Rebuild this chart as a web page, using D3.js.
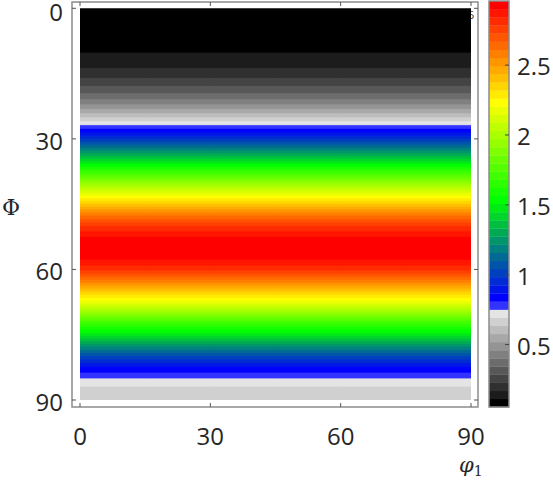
<!DOCTYPE html>
<html><head><meta charset="utf-8">
<script src="https://cdn.jsdelivr.net/npm/d3@7"></script>
<style>html,body{margin:0;padding:0;background:#fff;}svg{display:block;}</style>
</head><body>
<svg id="c" width="553" height="482"></svg>
<script>
// ---- data ----
const phiRows = [0,2.5,5,7.5,10,12.5,15,17.5,20,22.5,25,27.5,30,32.5,35,37.5,40,42.5,45,47.5,50,52.5,55,57.5,60,62.5,65,67.5,70,72.5,75,77.5,80,82.5,85,87.5,90];
const profile = [0.06,0.065,0.07,0.085,0.108,0.145,0.195,0.273,0.36,0.48,0.628,0.79,0.98,1.2,1.43,1.68,1.92,2.15,2.38,2.6,2.78,2.9,2.94,2.91,2.8,2.6,2.38,2.18,1.93,1.68,1.47,1.24,1.03,0.86,0.75,0.675,0.66];
const phi1Cols = [0,15,30,45,60,75,90];
const xTicks = [0,30,60,90];
const yTicks = [0,30,60,90];
const cbTicks = [0.5,1,1.5,2,2.5];
const vMin = 0.053, vMax = 2.959, nLevels = 50;

// ---- colormap ----
function bandColor(k){
  if (k < 12){ const g = k===0?0:8+20*k; return d3.rgb(g,g,g).toString(); }
  if (k === 12) return "#3333ff";
  if (k <= 25) return d3.interpolateRgb("#0000ff","#00ff00")((k-13)/12);
  if (k <= 37) return d3.interpolateRgb("#00ff00","#ffff00")((k-25)/12);
  return d3.interpolateRgb("#ffff00","#ff0000")((k-37)/12);
}

const svg = d3.select("#c");
const x = d3.scaleLinear().domain([0,90]).range([80,471]);
const y = d3.scaleLinear().domain([0,90]).range([8.3,400]);
const box = {x0:72, x1:478, y0:2, y1:407};

// label partly hidden behind the map
svg.append("text").attr("x",468).attr("y",19).attr("font-family","Open Sans").attr("font-size",11).attr("fill","#333").text("5");

// grid
const n = phi1Cols.length, m = phiRows.length;
const values = new Array(n*m);
for (let j=0;j<m;j++) for (let i=0;i<n;i++) values[j*n+i] = profile[j];
const step = (vMax - vMin)/nLevels;
const thresholds = d3.range(nLevels).map(k => k===0 ? -1 : vMin + k*step);
const contours = d3.contours().size([n,m]).thresholds(thresholds)(values);
const dx = phi1Cols[1]-phi1Cols[0], dy = phiRows[1]-phiRows[0];
const proj = d3.geoTransform({point:function(px,py){ this.stream.point(x((px-0.5)*dx), y((py-0.5)*dy)); }});
const path = d3.geoPath(proj);
svg.append("clipPath").attr("id","img").append("rect")
  .attr("x",x(0)).attr("y",y(0)).attr("width",x(90)-x(0)).attr("height",y(90)-y(0));
const g = svg.append("g").attr("clip-path","url(#img)");
g.selectAll("path").data(contours).join("path")
  .attr("d",path).attr("fill",(d,k)=>bandColor(k)).attr("stroke",(d,k)=>bandColor(k)).attr("stroke-width",0.3);

// box
const axC = "#8c8c8c";
svg.append("rect").attr("x",box.x0).attr("y",box.y0).attr("width",box.x1-box.x0).attr("height",box.y1-box.y0)
  .attr("fill","none").attr("stroke",axC).attr("stroke-width",1.5);
const tk = svg.append("g").attr("stroke","#555").attr("stroke-width",1);
xTicks.forEach(t=>{
  tk.append("line").attr("x1",x(t)).attr("x2",x(t)).attr("y1",box.y1).attr("y2",box.y1-4);
  tk.append("line").attr("x1",x(t)).attr("x2",x(t)).attr("y1",box.y0).attr("y2",box.y0+4);
});
yTicks.forEach(t=>{
  tk.append("line").attr("y1",y(t)).attr("y2",y(t)).attr("x1",box.x0).attr("x2",box.x0+4);
  tk.append("line").attr("y1",y(t)).attr("y2",y(t)).attr("x1",box.x1).attr("x2",box.x1-4);
});
const font = "Open Sans", fs = 24, tc = "#262626";
svg.append("g").selectAll("text").data(xTicks).join("text")
  .attr("x",d=>x(d)).attr("y",445).attr("text-anchor","middle")
  .attr("font-family",font).attr("font-size",fs).attr("fill",tc).text(d=>d);
svg.append("g").selectAll("text").data(yTicks).join("text")
  .attr("x",63).attr("y",d=>Math.max(y(d)+11,21)).attr("text-anchor","end")
  .attr("font-family",font).attr("font-size",fs).attr("fill",tc).text(d=>d);

// axis labels
svg.append("text").attr("x",2).attr("y",215).attr("font-family","DejaVu Serif").attr("font-size",22).attr("fill",tc).text("Φ");
const xl = svg.append("text").attr("x",459).attr("y",472).attr("font-family","DejaVu Serif").attr("font-size",21).attr("font-style","italic").attr("fill",tc);
xl.append("tspan").text("φ");
xl.append("tspan").attr("font-size",14).attr("font-style","normal").attr("dy",4).text("1");

// colorbar
const cb = {x0:489, x1:509, y0:1, y1:407};
const cy = d3.scaleLinear().domain([vMin,vMax]).range([cb.y1,cb.y0]);
svg.append("g").selectAll("rect").data(d3.range(nLevels)).join("rect")
  .attr("x",cb.x0).attr("width",cb.x1-cb.x0)
  .attr("y",k=>cy(vMin+(k+1)*step)).attr("height",k=>cy(vMin+k*step)-cy(vMin+(k+1)*step)+0.3)
  .attr("fill",k=>bandColor(k));
svg.append("rect").attr("x",cb.x0).attr("y",cb.y0).attr("width",cb.x1-cb.x0).attr("height",cb.y1-cb.y0)
  .attr("fill","none").attr("stroke",axC).attr("stroke-width",1.5);
cbTicks.forEach(t=>{
  svg.append("line").attr("x1",cb.x1-4).attr("x2",cb.x1).attr("y1",cy(t)).attr("y2",cy(t)).attr("stroke","#444").attr("stroke-width",1);
});
svg.append("g").selectAll("text").data(cbTicks).join("text")
  .attr("x",517).attr("y",d=>cy(d)+10).attr("font-family",font).attr("font-size",fs).attr("fill",tc).text(d=>d);
</script>
</body></html>
